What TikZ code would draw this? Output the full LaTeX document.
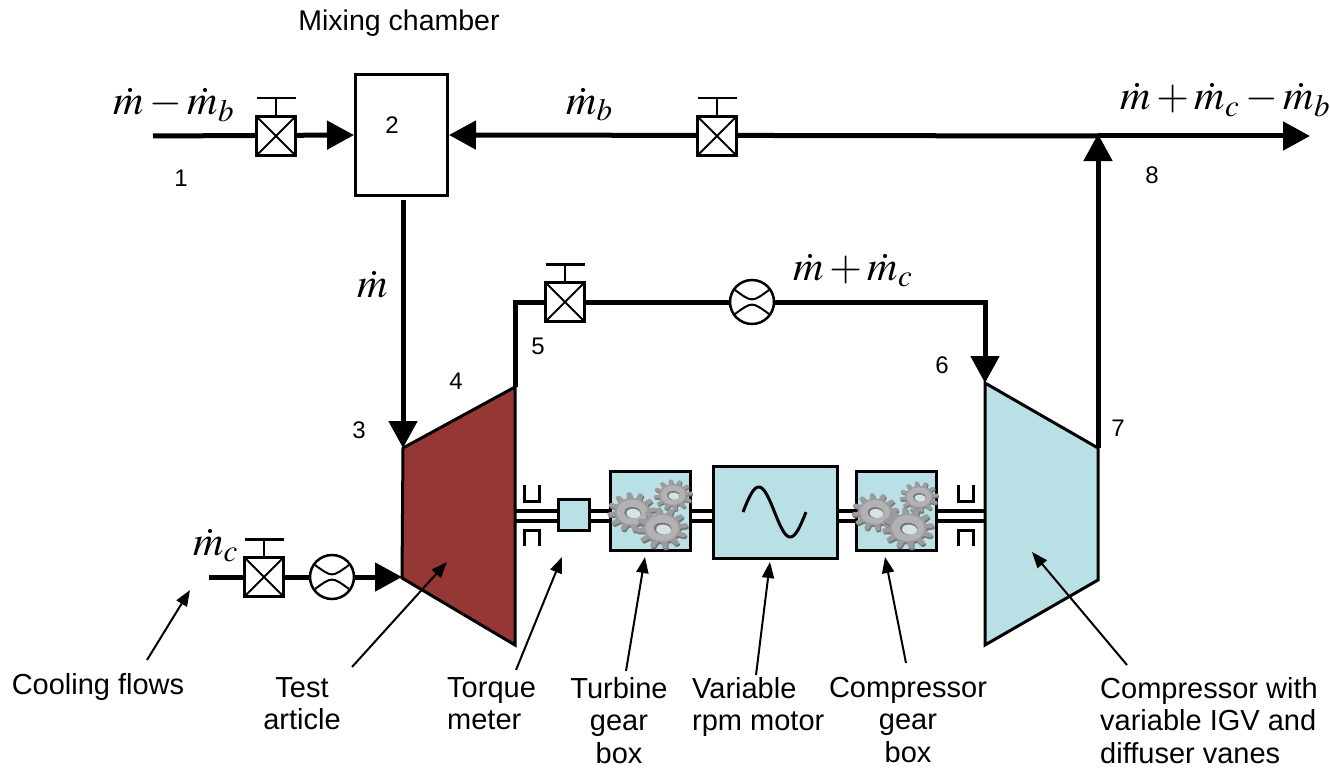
\documentclass[tikz,border=0pt]{standalone}
\usepackage{mathptmx}
\usepackage[no-math]{fontspec}
\setmainfont{Liberation Sans}
\usetikzlibrary{arrows.meta}

\definecolor{turbred}{RGB}{149,55,53}
\definecolor{paleblue}{RGB}{185,224,228}
\definecolor{gearbody}{RGB}{156,156,158}
\definecolor{gearshade}{RGB}{118,118,120}
\definecolor{gearface}{RGB}{178,178,180}
\definecolor{gearhole}{RGB}{214,226,229}

% valve hand-wheel stem above a valve node
\newcommand\valvestem[1]{\draw[stem] (#1.north) -- ++(0,-17) ++(-19.5,0) -- ++(39,0);}

\begin{document}
\begin{tikzpicture}[x=1pt,y=-1pt,
  flowarrow/.style={line width=5pt,-{Triangle[length=27pt,width=28pt]}},
  flowline/.style={line width=5pt},
  stem/.style={line width=2.5pt},
  valvebox/.style={draw,fill=white,line width=2.5pt,minimum size=39pt,inner sep=0pt,
    path picture={\draw[line width=2pt]
      (path picture bounding box.north west) -- (path picture bounding box.south east)
      (path picture bounding box.north east) -- (path picture bounding box.south west);}},
  meter/.style={draw,fill=white,circle,line width=2.5pt,minimum size=44pt,inner sep=0pt,
    path picture={\draw[line width=2pt]
      ([shift={(-17,-12)}]path picture bounding box.center) .. controls ([shift={(0,0.5)}]path picture bounding box.center) .. ([shift={(17,-12)}]path picture bounding box.center)
      ([shift={(-17,12)}]path picture bounding box.center) .. controls ([shift={(0,-0.5)}]path picture bounding box.center) .. ([shift={(17,12)}]path picture bounding box.center);}},
  unitbox/.style={draw,fill=paleblue,line width=3pt,inner sep=0pt},
  numlbl/.style={font=\fontsize{24}{28}\selectfont,inner sep=0pt},
  mathlbl/.style={font=\fontsize{42}{50}\selectfont,inner sep=0pt},
  desc/.style={font=\fontsize{29}{32.5}\selectfont,inner sep=0pt},
  callout/.style={line width=2pt,-{Triangle[length=16pt,width=12pt]}},
  brg/.style={line width=3pt},
  gear/.pic={
    \fill[gearshade] plot[domain=0:360,samples=241] ([shift={(0.07,0.09)}]\x:{1+0.17*max(-1,min(1,2.2*sin(12*\x)))}) -- cycle;
    \fill[gearbody] plot[domain=0:360,samples=241] (\x:{1+0.17*max(-1,min(1,2.2*sin(12*\x)))}) -- cycle;
    \fill[gearface] (0,0) circle (0.74);
    \fill[gearshade] (0.04,0.03) ellipse (0.4 and 0.34);
    \fill[gearhole] (0.09,0.07) ellipse (0.34 and 0.28);
  }
]
\useasboundingbox (0,0) rectangle (1330,773);

% ---------- key points of the flow path ----------
\coordinate (in1) at (153,136);
\coordinate (j8) at (1098,136);
\coordinate (j8tip) at (1098,134);
\coordinate (out8) at (1310,136);
\coordinate (mixout) at (403,200);
\coordinate (t3) at (403,448);
\coordinate (t4) at (515,387);
\coordinate (t4b) at (515,645);
\coordinate (t3b) at (402,578);
\coordinate (bend5) at (515,302);
\coordinate (bend6) at (985,302);
\coordinate (c6) at (985,383);
\coordinate (c7) at (1098,448);
\coordinate (c7b) at (1098,580);
\coordinate (c6b) at (985,645);
\coordinate (inc) at (209,577);
\coordinate (tin) at (402,577);
\coordinate (shaftL) at (515,516);
\coordinate (shaftR) at (985,516);

% ---------- mixing chamber ----------
\node[draw,line width=3pt,minimum width=92pt,minimum height=120pt,inner sep=0pt] (mix) at (401.5,135) {};
\node[numlbl] (n2) at (392,125) {2};
\node[font=\fontsize{28.5}{32}\selectfont,inner sep=0pt] (mixlbl) at (399,23) {Mixing chamber};

% ---------- pipes ----------
\draw[flowarrow] (in1) -- (mix.west);
\draw[flowarrow] (j8) -- (mix.east);
\draw[flowarrow] (j8) -- (out8);
\draw[flowarrow] (mixout) -- (t3);
\draw[flowarrow] (t4) -- (bend5) -- (bend6) -- (c6);
\draw[flowarrow] (c7) -- (j8tip);
\draw[flowarrow] (inc) -- (tin);

% ---------- valves and flow meters ----------
\node[valvebox] (v1) at (276,136) {};
\node[valvebox] (vb) at (717,136) {};
\node[valvebox] (v5) at (565,302) {};
\node[valvebox] (vc) at (264,577) {};
\valvestem{v1}
\valvestem{vb}
\valvestem{v5}
\valvestem{vc}
\node[meter] (fm5) at (752,302) {};
\node[meter] (fmc) at (332,577) {};

% ---------- shaft train ----------
\draw[line width=14pt] (shaftL) -- (shaftR);
\draw[white,line width=6pt] (shaftL) -- (shaftR);

% bearings
\draw[brg] (524.5,485) -- (524.5,501) -- (539.5,501) -- (539.5,485);
\draw[brg] (524.5,546) -- (524.5,530) -- (539.5,530) -- (539.5,546);
\draw[brg] (958.5,485) -- (958.5,501) -- (973.5,501) -- (973.5,485);
\draw[brg] (958.5,546) -- (958.5,530) -- (973.5,530) -- (973.5,546);

% test article (turbine) and compressor
\draw[line width=3pt,fill=turbred,line join=miter] (t3) -- (t4) -- (t4b) -- (t3b) -- cycle;
\draw[line width=3pt,fill=paleblue,line join=miter] (c6) -- (c7) -- (c7b) -- (c6b) -- cycle;

% torque meter, gear boxes, motor
\node[unitbox,minimum width=31pt,minimum height=31pt] (tq) at (574,515) {};
\node[unitbox,minimum width=80pt,minimum height=79pt] (tgb) at (650.5,511) {};
\node[unitbox,minimum width=124pt,minimum height=92pt] (motor) at (775.5,512.5) {};
\node[unitbox,minimum width=80pt,minimum height=79pt] (cgb) at (896.5,511) {};

\draw[line width=3pt] plot[domain=0:1,samples=60] ({743+63*\x},{512-25*sin(360*\x)});

\pic[scale=21,yscale=0.8,rotate=-15] at (632,512) {gear};
\pic[scale=16.5,yscale=0.8,rotate=-15] at (673,495) {gear};
\pic[scale=22,yscale=0.8,rotate=-15] at (662,528) {gear};
\pic[scale=20,yscale=0.8,rotate=-15] at (875,512) {gear};
\pic[scale=16.5,yscale=0.8,rotate=-15] at (919,497) {gear};
\pic[scale=22,yscale=0.8,rotate=-15] at (908,528) {gear};

% ---------- station numbers ----------
\node[numlbl] (n1) at (181,178) {1};
\node[numlbl] (n3) at (359,430) {3};
\node[numlbl] (n4) at (456,381) {4};
\node[numlbl] (n5) at (538,346) {5};
\node[numlbl] (n6) at (942,365) {6};
\node[numlbl] (n7) at (1118,428) {7};
\node[numlbl] (n8) at (1152,175) {8};

% ---------- mass flow labels ----------
\node[mathlbl,anchor=base west] (f1) at (113,115) {$\dot m-\dot m_b$};
\node[mathlbl,anchor=base west] (fb) at (566,114) {$\dot m_b$};
\node[mathlbl,anchor=base west] (f8) at (1120,110) {$\dot m+\dot m_c-\dot m_b$};
\node[mathlbl,anchor=base west] (f3) at (357,297) {$\dot m$};
\node[mathlbl,anchor=base west] (f6) at (793,280) {$\dot m+\dot m_c$};
\node[mathlbl,anchor=base west] (fc) at (193,555) {$\dot m_c$};

% ---------- component descriptions ----------
\node[desc,anchor=north] (lcool) at (98,673) {Cooling flows};
\node[desc,anchor=north,align=center] (ltest) at (302,677) {Test\\article};
\node[desc,anchor=north west,align=left] (ltorque) at (447,677) {Torque\\meter};
\node[desc,anchor=north,align=center] (ltgb) at (619,677) {Turbine\\gear\\box};
\node[desc,anchor=north west,align=left] (lmotor) at (692,677) {Variable\\rpm motor};
\node[desc,anchor=north,align=center] (lcgb) at (908,677) {Compressor\\gear\\box};
\node[desc,anchor=north west,align=left] (lcomp) at (1100,677) {Compressor with\\variable IGV and\\diffuser vanes};

\coordinate (cfT) at (147,660);  \coordinate (cfH) at (190,590);
\coordinate (taT) at (352,667);  \coordinate (taH) at (447,562);
\coordinate (tmT) at (516,670);  \coordinate (tmH) at (562,557);
\coordinate (tgT) at (626,671);  \coordinate (tgH) at (645,557);
\coordinate (vmT) at (756,675);  \coordinate (vmH) at (770,562);
\coordinate (cgT) at (906,663);  \coordinate (cgH) at (885,557);
\coordinate (ccT) at (1127,665); \coordinate (ccH) at (1032,552);
\draw[callout] (cfT) -- (cfH);
\draw[callout] (taT) -- (taH);
\draw[callout] (tmT) -- (tmH);
\draw[callout] (tgT) -- (tgH);
\draw[callout] (vmT) -- (vmH);
\draw[callout] (cgT) -- (cgH);
\draw[callout] (ccT) -- (ccH);
\end{tikzpicture}
\end{document}
